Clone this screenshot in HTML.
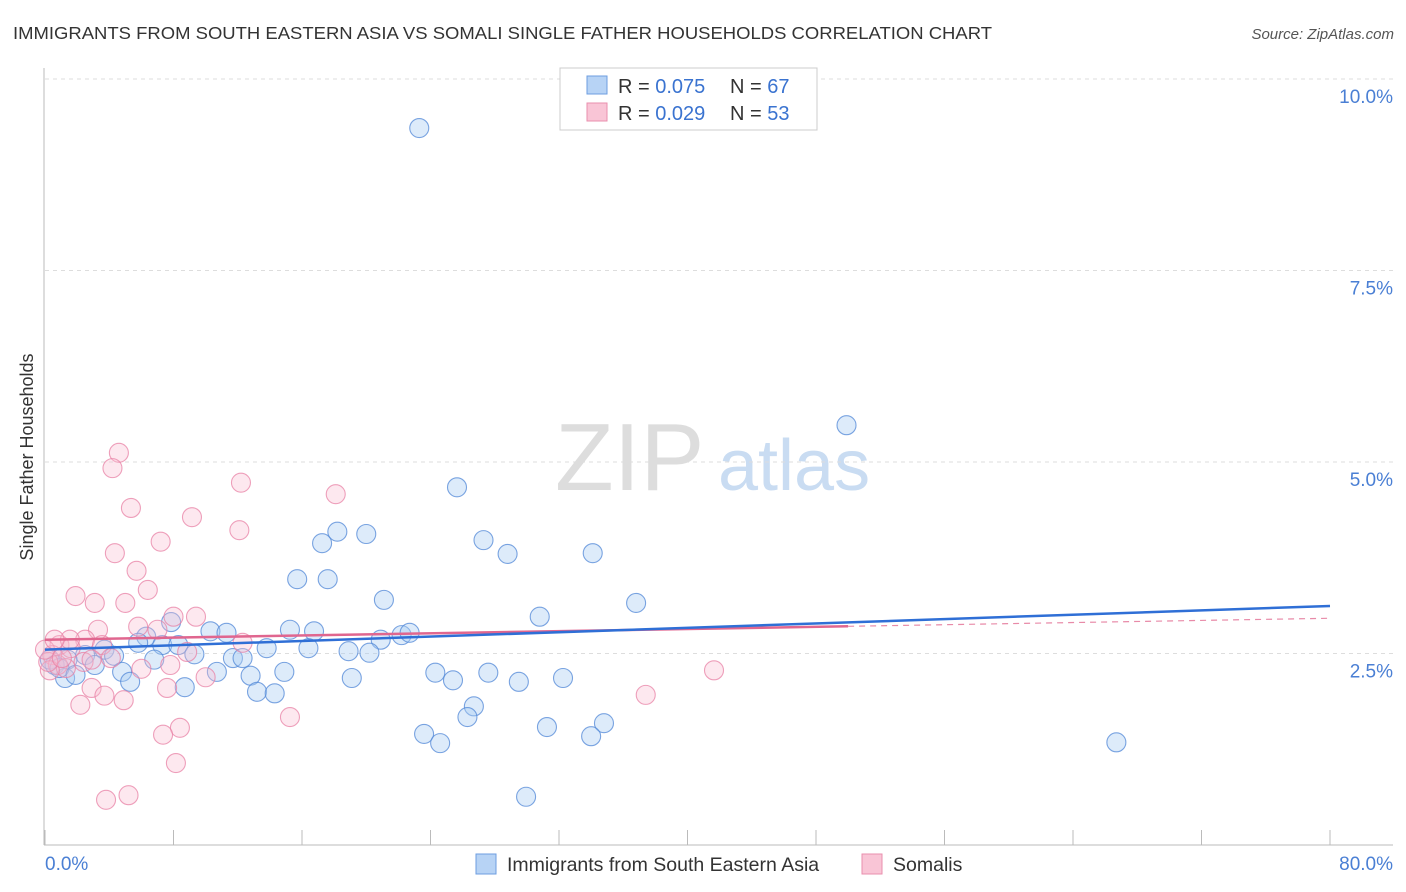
<!DOCTYPE html>
<html><head><meta charset="utf-8"><style>
body{margin:0;background:#fff;font-family:"Liberation Sans",sans-serif}
#wrap{position:relative;width:1406px;height:892px;overflow:hidden}
svg text{font-family:"Liberation Sans",sans-serif}
</style></head><body>
<div id="wrap">
<svg id="svg" width="1406" height="892" xmlns="http://www.w3.org/2000/svg">
<text x="13" y="39" font-size="17.5" fill="#333" textLength="979" lengthAdjust="spacingAndGlyphs">IMMIGRANTS FROM SOUTH EASTERN ASIA VS SOMALI SINGLE FATHER HOUSEHOLDS CORRELATION CHART</text>
<text x="1394" y="39" font-size="15" fill="#555" font-style="italic" text-anchor="end">Source: ZipAtlas.com</text>
<text x="33" y="457" font-size="18" fill="#333" text-anchor="middle" transform="rotate(-90 33 457)">Single Father Households</text>
<text x="555" y="490" font-size="96" fill="#ddd" font-family="Liberation Serif">ZIP</text>
<text x="718" y="490" font-size="72" fill="#c9dcf2">atlas</text>
<g id="grid"></g><g id="axes"></g><g id="pts"></g><g id="trend"></g>
<g>
<rect x="560" y="68" width="257" height="62" fill="#fff" stroke="#ccc"/>
<rect x="587" y="76" width="20" height="18" fill="#b7d3f5" stroke="#6d9ee0"/>
<rect x="587" y="103" width="20" height="18" fill="#f9c5d6" stroke="#e98fae"/>
<text x="618" y="93" font-size="20" fill="#333">R = <tspan fill="#3a73d0">0.075</tspan></text>
<text x="730" y="93" font-size="20" fill="#333">N = <tspan fill="#3a73d0">67</tspan></text>
<text x="618" y="120" font-size="20" fill="#333">R = <tspan fill="#3a73d0">0.029</tspan></text>
<text x="730" y="120" font-size="20" fill="#333">N = <tspan fill="#3a73d0">53</tspan></text>
</g>
<g>
<rect x="476" y="854" width="20" height="20" fill="#b7d3f5" stroke="#6d9ee0"/>
<text x="507" y="871" font-size="19.5" fill="#333">Immigrants from South Eastern Asia</text>
<rect x="862" y="854" width="20" height="20" fill="#f9c5d6" stroke="#e98fae"/>
<text x="893" y="871" font-size="19.5" fill="#333">Somalis</text>
</g>
</svg></div>
<script>
const blueX=[23.3,49.9,25.65,18.2,20.0,17.25,27.3,28.8,34.1,15.7,17.6,21.1,36.8,30.8,15.25,16.75,10.3,11.3,7.85,6.3,5.8,7.3,8.3,9.3,13.8,16.4,20.9,22.2,22.7,18.9,20.2,11.7,12.3,6.8,3.7,4.3,2.5,1.4,0.6,1.25,4.8,5.3,8.7,10.7,12.8,14.9,13.2,14.3,19.1,24.3,25.4,27.6,29.5,32.25,26.7,26.3,34.8,31.25,23.6,24.6,34.0,29.95,66.7,0.3,0.9,3.1,1.9];
const blueY=[9.36,5.48,4.67,4.09,4.06,3.94,3.98,3.80,3.81,3.47,3.47,3.20,3.16,2.98,2.81,2.79,2.79,2.77,2.91,2.72,2.64,2.61,2.61,2.49,2.57,2.57,2.68,2.74,2.77,2.53,2.51,2.44,2.44,2.42,2.55,2.47,2.48,2.42,2.35,2.18,2.26,2.13,2.06,2.26,2.21,2.26,2.00,1.98,2.18,2.25,2.15,2.25,2.13,2.18,1.81,1.67,1.59,1.54,1.45,1.33,1.42,0.63,1.34,2.42,2.31,2.35,2.22];
const pinkX=[4.6,4.2,12.2,18.1,5.35,9.15,12.1,7.2,4.35,5.7,6.4,1.9,3.1,5.0,8.0,9.4,3.3,5.8,7.0,2.5,3.55,12.3,0.9,1.6,8.85,4.1,7.8,6.0,10.0,2.9,4.9,2.2,3.7,7.6,15.25,8.4,7.35,8.15,5.2,3.8,37.4,41.65,0.45,0.8,1.3,0.3,2.4,2.9,0.2,0.0,1.05,1.55,0.6];
const pinkY=[5.12,4.92,4.73,4.58,4.40,4.28,4.11,3.96,3.81,3.58,3.33,3.25,3.16,3.16,2.98,2.98,2.81,2.85,2.81,2.68,2.61,2.64,2.61,2.57,2.52,2.44,2.35,2.30,2.19,2.05,1.89,1.83,1.95,2.05,1.67,1.53,1.44,1.07,0.65,0.59,1.96,2.28,2.48,2.35,2.31,2.28,2.39,2.42,2.39,2.55,2.44,2.68,2.68];
const blueTrend=[2.55,3.12];
const pinkTrend=[2.68,2.96];
const pinkSolidEnd=50;
const yTicks=[2.5,5.0,7.5,10.0];
const xTickVals=[0,8,16,24,32,40,48,56,64,72,80];
const NS="http://www.w3.org/2000/svg";
const X=v=>45+v/80*1285, Y=v=>845-v*76.6;
function mk(t,a,p){const e=document.createElementNS(NS,t);for(const k in a)e.setAttribute(k,a[k]);document.getElementById(p).appendChild(e);return e;}
yTicks.forEach(t=>{
 const l=mk('line',{x1:45,x2:1393,y1:Y(t),y2:Y(t),stroke:'#ddd','stroke-dasharray':'4,4'},'grid');
 
 
 const tx=mk('text',{x:1393,y:Y(t)+24,'text-anchor':'end','font-size':19,fill:'#4a7fd4'},'grid');
 tx.textContent=t.toFixed(1)+'%';
 
 
});
const ax=mk('line',{x1:44,x2:44,y1:68,y2:845,stroke:'#bbb'},'axes');


const bx=mk('line',{x1:44,x2:1393,y1:845,y2:845,stroke:'#bbb'},'axes');


xTickVals.forEach(v=>{const t=mk('line',{x1:X(v),x2:X(v),y1:830,y2:845,stroke:'#bbb'},'axes');
 
 });
[[0,'0.0%','start',45],[80,'80.0%','end',1393]].forEach(d=>{const t=mk('text',{x:d[3],y:870,'text-anchor':d[2],'font-size':19,fill:'#4a7fd4'},'axes');t.textContent=d[1];
 
 });
blueX.forEach((v,i)=>{const c=mk('circle',{cx:X(v),cy:Y(blueY[i]),r:9.5,fill:'rgba(170,204,243,0.4)',stroke:'rgba(80,135,215,0.75)','stroke-width':1.1},'pts');
 
 });
pinkX.forEach((v,i)=>{const c=mk('circle',{cx:X(v),cy:Y(pinkY[i]),r:9.5,fill:'rgba(248,190,210,0.35)',stroke:'rgba(232,130,165,0.75)','stroke-width':1.1},'pts');
 
 });
const pAt=x=>pinkTrend[0]+(pinkTrend[1]-pinkTrend[0])*x/80;
const pl=mk('line',{x1:X(0),y1:Y(pinkTrend[0]),x2:X(pinkSolidEnd),y2:Y(pAt(pinkSolidEnd)),stroke:'#e0668f','stroke-width':2.5},'trend');


const pd=mk('line',{x1:X(pinkSolidEnd),y1:Y(pAt(pinkSolidEnd)),x2:X(80),y2:Y(pinkTrend[1]),stroke:'#e88aa8','stroke-width':1.2,'stroke-dasharray':'6,5'},'trend');


const bl=mk('line',{x1:X(0),y1:Y(blueTrend[0]),x2:X(80),y2:Y(blueTrend[1]),stroke:'#2f6fd6','stroke-width':2.5},'trend');


</script>
</body></html>
